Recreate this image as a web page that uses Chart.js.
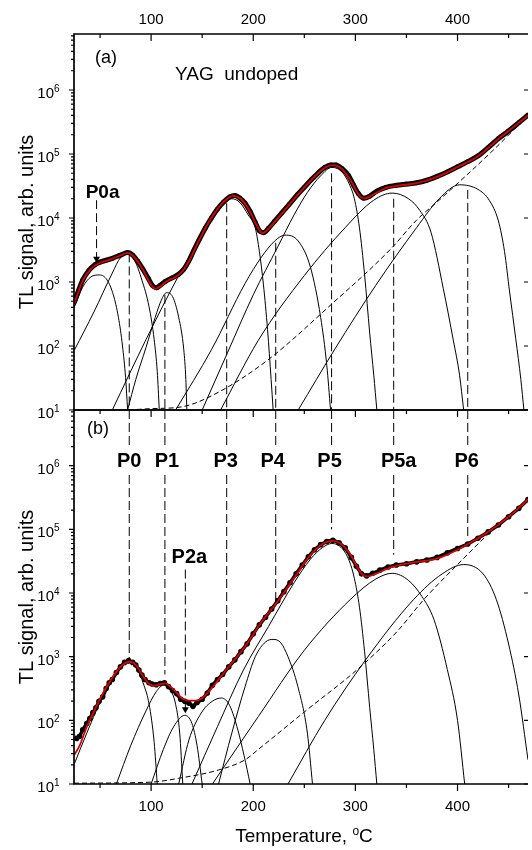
<!DOCTYPE html>
<html lang="en">
<head>
<meta charset="UTF-8">
<title>TL glow curves, YAG undoped</title>
<script src="https://cdn.jsdelivr.net/npm/chart.js"></script>
<style>
  html, body { margin: 0; padding: 0; background: #fff; }
  #wrap { position: relative; width: 532px; height: 850px; }
  #wrap canvas { position: absolute; left: 0; top: 0; }
</style>
</head>
<body>
<div id="wrap">
  <canvas id="panelA" width="532" height="850"></canvas>
  <canvas id="panelB" width="532" height="850"></canvas>
</div>
<script>
// ---- axes ----
const T_MIN = 24.5, T_MAX = 469;
const Y_MIN = 10, Y_MAX = 7.5e6;
const xMajor = [100, 200, 300, 400];
const xMinor = [50, 150, 250, 350, 450];
const yExp = [1, 2, 3, 4, 5, 6];

// ---- panel (a): [temperature, TL signal] ----
const measuredA = [[25,490],[29,740],[33,1070],[39,1510],[45,1860],[50,2040],[56,2190],[62,2340],[70,2630],[77,2880],
  [82,2630],[87,2090],[92,1580],[97,1150],[101,890],[105,810],[109,890],[114,1020],[120,1150],[127,1320],[132,1580],
  [137,2140],[142,3160],[147,4570],[153,6920],[159,10000],[165,13800],[171,17800],[177,21400],[182,22400],[187,20400],
  [192,17000],[197,12600],[202,8510],[206,6310],[210,5890],[215,6920],[221,8910],[228,12000],[235,16200],[243,22900],
  [250,30200],[257,39800],[264,51300],[270,61700],[276,67600],[281,67600],[287,58900],[293,46800],[298,33100],[303,24000],
  [308,20400],[314,21900],[321,26300],[330,30200],[340,32400],[350,33900],[360,35500],[370,38900],[380,44700],[390,52500],
  [400,63100],[410,75900],[420,93300],[430,126000],[440,174000],[450,229000],[460,309000],[469,407000]];
const fitA = [[25,470],[33,1040],[41,1600],[50,2000],[62,2300],[70,2600],[77,2850],[84,2400],[92,1550],[99,960],[104,790],
  [109,850],[116,1050],[124,1200],[131,1500],[138,2250],[147,4500],[159,10000],[171,17800],[180,22200],[188,19800],
  [196,13200],[203,7900],[209,5800],[215,6800],[228,11800],[243,22600],[257,39500],[270,61000],[278,67000],[287,58000],
  [296,37000],[303,23500],[309,20200],[318,23500],[330,29500],[345,32500],[360,35000],[380,44000],[400,62500],[420,92000],
  [440,172000],[455,265000],[469,400000]];
const aP0a = [[25,410],[33,830],[41,1200],[49.5,1290],[57,1070],[63,630],[68,280],[72,100],[75,32],[77,10]];
const aP0 = [[25,87],[44,340],[62,1380],[70,2400],[77,2700],[84,2140],[91,1070],[98,410],[103,126],[106,40],[108,10]];
const aP1 = [[77,10],[85,30],[95,95],[104,280],[110,520],[115,680],[121,590],[127,280],[132,87],[134,30],[135,10]];
const aP3 = [[62,10],[95,126],[127,1260],[145,4000],[160,9500],[172,17400],[179,20000],[187,17400],[195,11200],[202,7000],
  [206,3000],[210,900],[214,180],[217.5,30],[219.5,10]];
const aP4 = [[124,10],[159,87],[192,950],[208,2450],[221,4370],[231,5400],[244,4370],[256,1700],[266,280],[272,50],[275.7,10]];
const aP5 = [[150,10],[175,80],[200,630],[224,3550],[240,11200],[253,25100],[266,45700],[277,61700],[287,52000],[294,34000],
  [299,20000],[304,7000],[309,1300],[314,160],[318,35],[321,10]];
const aP5a = [[168,10],[205,123],[250,1260],[290,7080],[318,19000],[336,24500],[352,20000],[363,13200],[374,6000],[386,800],
  [396,120],[402,35],[406,10]];
const aP6 = [[244,10],[280,90],[320,890],[360,7100],[382,20000],[402,33000],[420,28000],[431,19000],[440,9000],[446,3000],
  [451,700],[457,130],[462,30],[465,10]];
const aBg = [[78,10],[100,10.5],[130,11.2],[166,19],[214,60],[276,440],[334,3200],[360,9300],[382,19000],[435,115000],[469,400000]];

// ---- panel (b) ----
const measuredB = [[27,52],[30,56],[33,71],[37,89],[40,107],[43,132],[46,158],[49,200],[52.6,234],[56,316],[59,389],[62,437],
  [66,562],[70,692],[74,813],[78,871],[82,813],[85,741],[88,617],[91,513],[94,437],[98,389],[101,372],[105,363],[109,380],
  [113,389],[117,339],[121,295],[125,263],[129,214],[133,200],[137,186],[141,166],[145,191],[150,214],[155,269],[160,355],
  [165,437],[170,525],[176,692],[182,891],[188,1200],[194,1590],[200,2290],[206,3160],[212,4170],[218,5620],[224,7590],
  [230,10500],[236,14500],[242,20000],[248,27500],[254,37200],[260,47900],[266,57500],[272,64600],[278,67600],[284,61700],
  [290,51300],[296,36300],[301,26300],[306,20000],[311,18600],[317,20400],[324,22900],[332,25700],[340,27500],[350,28800],
  [360,30900],[370,33100],[380,36300],[390,42700],[400,50100],[410,58900],[420,72400],[430,91200],[440,117000],[450,158000],
  [460,214000],[469,295000]];
const fitB = [[25,29],[30,40],[37,79],[45,148],[52,251],[62,468],[72,741],[79,832],[85,741],[91,525],[97,389],[103,347],
  [109,372],[114,380],[119,339],[124,282],[130,224],[137,204],[144,204],[150,224],[159,316],[167,457],[176,692],[192,1445],
  [208,3467],[224,7413],[241,18200],[256,39800],[270,61700],[278,66000],[289,53700],[296,38000],[302,25100],[307,19500],
  [312,18200],[320,20000],[334,25100],[357,30200],[380,34700],[406,53700],[431,93300],[450,158000],[469,295000]];
const bP0 = [[25,21],[37,63],[50,190],[62,420],[72,710],[78.6,790],[85,690],[93,355],[98,180],[103,45],[106,10]];
const bP1 = [[66,10],[80,40],[95,141],[105,282],[112,355],[118,316],[124,178],[128,63],[131,10]];
const bP2a = [[100,10],[112,35],[122,79],[133,120],[140,89],[145,40],[150,10]];
const bP3 = [[127,10],[137,49],[149,130],[160,200],[169,224],[177,170],[185,70],[191,28],[197,10]];
const bP4 = [[166,10],[179,63],[192,339],[202,1000],[212,1700],[219.4,1870],[227,1650],[234,1000],[243.7,339],[253,63],[258,10]];
const bP5 = [[140,10],[165,80],[190,600],[215,3000],[240,14500],[256,34000],[268,52000],[277,60000],[287,50000],[294,32000],
  [299,17000],[304,6000],[309,1200],[314,160],[318,35],[321,10]];
const bP5a = [[160,10],[205,115],[250,1260],[295,7900],[320,16600],[336,20400],[352,15800],[365,8900],[377,3800],[390,630],
  [400,100],[407,10]];
const bP6 = [[234,10],[270,100],[310,890],[357,7900],[385,20000],[406,28000],[425,20000],[438,7900],[450,1580],[460,250],[469,24]];
const bBg = [[24.5,10.3],[100,10.7],[127,12.3],[166,16.6],[192,24],[205,35],[253,148],[302,630],[341,2500],[367,7900],
  [400,28000],[435,100000],[469,295000]];

// ---- peak markers ----
const peakNames = ['P0', 'P1', 'P3', 'P4', 'P5', 'P5a', 'P6'];
const peakT = [78.6, 113.5, 174, 222, 276.7, 337.5, 410];
const peakStartA = [2800, 630, 17000, 4100, 50000, 20000, 27500];
const peakEndB = [900, 525, 1000, 6600, 100000, 40000, 78000];
const peakLabelDx = [0, 2, -1, -3, -2, 5, -1];
const p0aArrow = [[46.6, 19000], [46.6, 2300]];
const p2aArrow = [[133.5, 23400], [133.5, 150]];

const FONT = '"Liberation Sans", Arial, sans-serif';

function curve(arr, style) {
  return Object.assign({
    data: arr.map(([x, y]) => ({ x, y })),
    borderColor: '#000', borderWidth: 1, pointRadius: 0,
    fill: false, cubicInterpolationMode: 'monotone', order: 2
  }, style);
}

function vline(arr) {
  return curve(arr, { borderDash: [9, 4], borderWidth: 1, cubicInterpolationMode: 'default', tension: 0, order: 3 });
}

function arrow(arr) {
  return curve(arr, {
    borderDash: [9, 4], borderWidth: 1, tension: 0, cubicInterpolationMode: 'default', order: 3,
    pointRadius: [0, 4], pointStyle: 'triangle', rotation: 180,
    pointBackgroundColor: '#000', pointBorderColor: '#000', pointBorderWidth: 0
  });
}

function text(ctx, str, x, y, size, opts) {
  opts = opts || {};
  ctx.font = (opts.bold ? 'bold ' : '') + size + 'px ' + FONT;
  ctx.textAlign = opts.align || 'left';
  ctx.textBaseline = 'alphabetic';
  ctx.fillText(str, x, y);
}

function yTitle(ctx, a) {
  ctx.save();
  ctx.translate(33, (a.top + a.bottom) / 2);
  ctx.rotate(-Math.PI / 2);
  text(ctx, 'TL signal, arb. units', 0, 0, 20, { align: 'center' });
  ctx.restore();
}

// axes frame, ticks, tick labels and annotations
const framePlugin = {
  id: 'frame',
  afterDatasetsDraw(chart, args, o) {
    const { ctx, chartArea: a } = chart;
    const sx = chart.scales.x, sy = chart.scales.y;
    ctx.save();
    ctx.strokeStyle = '#000';
    ctx.fillStyle = '#000';

    ctx.lineWidth = 1.7;
    ctx.beginPath();
    ctx.moveTo(a.left, a.top - 0.8); ctx.lineTo(a.left, a.bottom + 0.8);
    ctx.moveTo(a.left, a.top); ctx.lineTo(a.right, a.top);
    ctx.moveTo(a.left, a.bottom); ctx.lineTo(a.right, a.bottom);
    ctx.stroke();

    ctx.lineWidth = 1.2;
    ctx.beginPath();
    o.xTickEdges.forEach(edge => {
      const y0 = edge === 'top' ? a.top : a.bottom;
      xMajor.forEach(t => { const p = sx.getPixelForValue(t); ctx.moveTo(p, y0); ctx.lineTo(p, y0 + 7); });
      xMinor.forEach(t => { const p = sx.getPixelForValue(t); ctx.moveTo(p, y0); ctx.lineTo(p, y0 + 4); });
    });
    yExp.forEach(e => {
      const v = Math.pow(10, e);
      const p = sy.getPixelForValue(v);
      ctx.moveTo(a.left, p); ctx.lineTo(a.left - 5, p);
      ctx.moveTo(a.right, p); ctx.lineTo(a.right - 4, p);
      for (let m = 2; m <= 9; m++) {
        if (m * v > Y_MAX) break;
        const pm = sy.getPixelForValue(m * v);
        ctx.moveTo(a.left, pm); ctx.lineTo(a.left - 3, pm);
      }
    });
    ctx.stroke();

    // y tick labels 10^n
    yExp.forEach(e => {
      const p = sy.getPixelForValue(Math.pow(10, e));
      text(ctx, '10', a.left - 20, p + 8, 15, { align: 'right' });
      text(ctx, String(e), a.left - 20, p + 1.5, 10);
    });

    // x tick labels
    xMajor.forEach(t => {
      const p = sx.getPixelForValue(t);
      if (o.xLabelEdge === 'top') text(ctx, String(t), p, a.top - 10.5, 15, { align: 'center' });
      else text(ctx, String(t), p, a.bottom + 27, 15, { align: 'center' });
    });

    yTitle(ctx, a);
    o.annotate(ctx, a, sx, sy);
    ctx.restore();
  }
};

function annotateA(ctx, a, sx, sy) {
  text(ctx, '(a)', a.left + 21, a.top + 29, 18);
  text(ctx, 'YAG  undoped', a.left + 101, a.top + 46, 19);
  text(ctx, 'P0a', sx.getPixelForValue(p0aArrow[0][0]) + 6, a.top + 164, 19, { bold: true, align: 'center' });
}

function annotateB(ctx, a, sx, sy) {
  text(ctx, '(b)', a.left + 13, a.top + 24, 18);
  peakNames.forEach((n, i) => {
    const px = sx.getPixelForValue(peakT[i]) + peakLabelDx[i];
    ctx.font = 'bold 20px ' + FONT;
    const w = ctx.measureText(n).width;
    ctx.fillStyle = '#fff';
    ctx.fillRect(px - w / 2 - 1, a.top + 38, w + 2, 24);
    ctx.fillStyle = '#000';
    text(ctx, n, px, a.top + 57, 20, { bold: true, align: 'center' });
  });
  text(ctx, 'P2a', sx.getPixelForValue(p2aArrow[0][0]) + 4, a.top + 153, 20, { bold: true, align: 'center' });

  // axis title with superscript degree sign
  ctx.font = '19px ' + FONT;
  const w1 = ctx.measureText('Temperature, ').width;
  const w3 = ctx.measureText('C').width;
  ctx.font = '12px ' + FONT;
  const w2 = ctx.measureText('o').width;
  let x0 = (a.left + a.right) / 2 + 3 - (w1 + w2 + w3) / 2;
  const base = a.bottom + 58;
  text(ctx, 'Temperature, ', x0, base, 19);
  text(ctx, 'o', x0 + w1, base - 7, 12);
  text(ctx, 'C', x0 + w1 + w2, base, 19);
}

function makeChart(id, datasets, padding, frame) {
  return new Chart(document.getElementById(id), {
    type: 'line',
    data: { datasets },
    options: {
      responsive: false,
      animation: false,
      events: [],
      layout: { padding },
      scales: {
        x: { type: 'linear', min: T_MIN, max: T_MAX, display: false },
        y: { type: 'logarithmic', min: Y_MIN, max: Y_MAX, display: false }
      },
      plugins: { legend: { display: false }, tooltip: { enabled: false }, frame }
    },
    plugins: [framePlugin]
  });
}

// panel (a)
const dsA = [
  curve(fitA, { borderColor: '#e00000', borderWidth: 1.8, order: 0 }),
  curve(measuredA, { borderWidth: 5, pointRadius: 2.4, pointBackgroundColor: '#000', pointBorderWidth: 0, order: 1 })
];
[aP0a, aP0, aP1, aP3, aP4, aP5, aP5a, aP6].forEach(c => dsA.push(curve(c)));
dsA.push(curve(aBg, { borderDash: [5, 3] }));
peakT.forEach((t, i) => dsA.push(vline([[t, peakStartA[i]], [t, Y_MIN]])));
dsA.push(arrow(p0aArrow));
makeChart('panelA', dsA, { left: 74, right: 0, top: 34, bottom: 440 },
  { xTickEdges: ['top'], xLabelEdge: 'top', annotate: annotateA });

// panel (b)
const dsB = [
  curve(fitB, { borderColor: '#e00000', borderWidth: 1.8, order: 0 }),
  curve(measuredB, { borderWidth: 3.5, tension: 0, cubicInterpolationMode: 'default',
    pointRadius: 2.8, pointBackgroundColor: '#000', pointBorderWidth: 0, order: 1 })
];
[bP0, bP1, bP2a, bP3, bP4, bP5, bP5a, bP6].forEach(c => dsB.push(curve(c)));
dsB.push(curve(bBg, { borderDash: [5, 3] }));
peakT.forEach((t, i) => dsB.push(vline([[t, Y_MAX], [t, peakEndB[i]]])));
dsB.push(arrow(p2aArrow));
makeChart('panelB', dsB, { left: 74, right: 0, top: 410, bottom: 66 },
  { xTickEdges: ['top', 'bottom'], xLabelEdge: 'bottom', annotate: annotateB });
</script>
</body>
</html>
